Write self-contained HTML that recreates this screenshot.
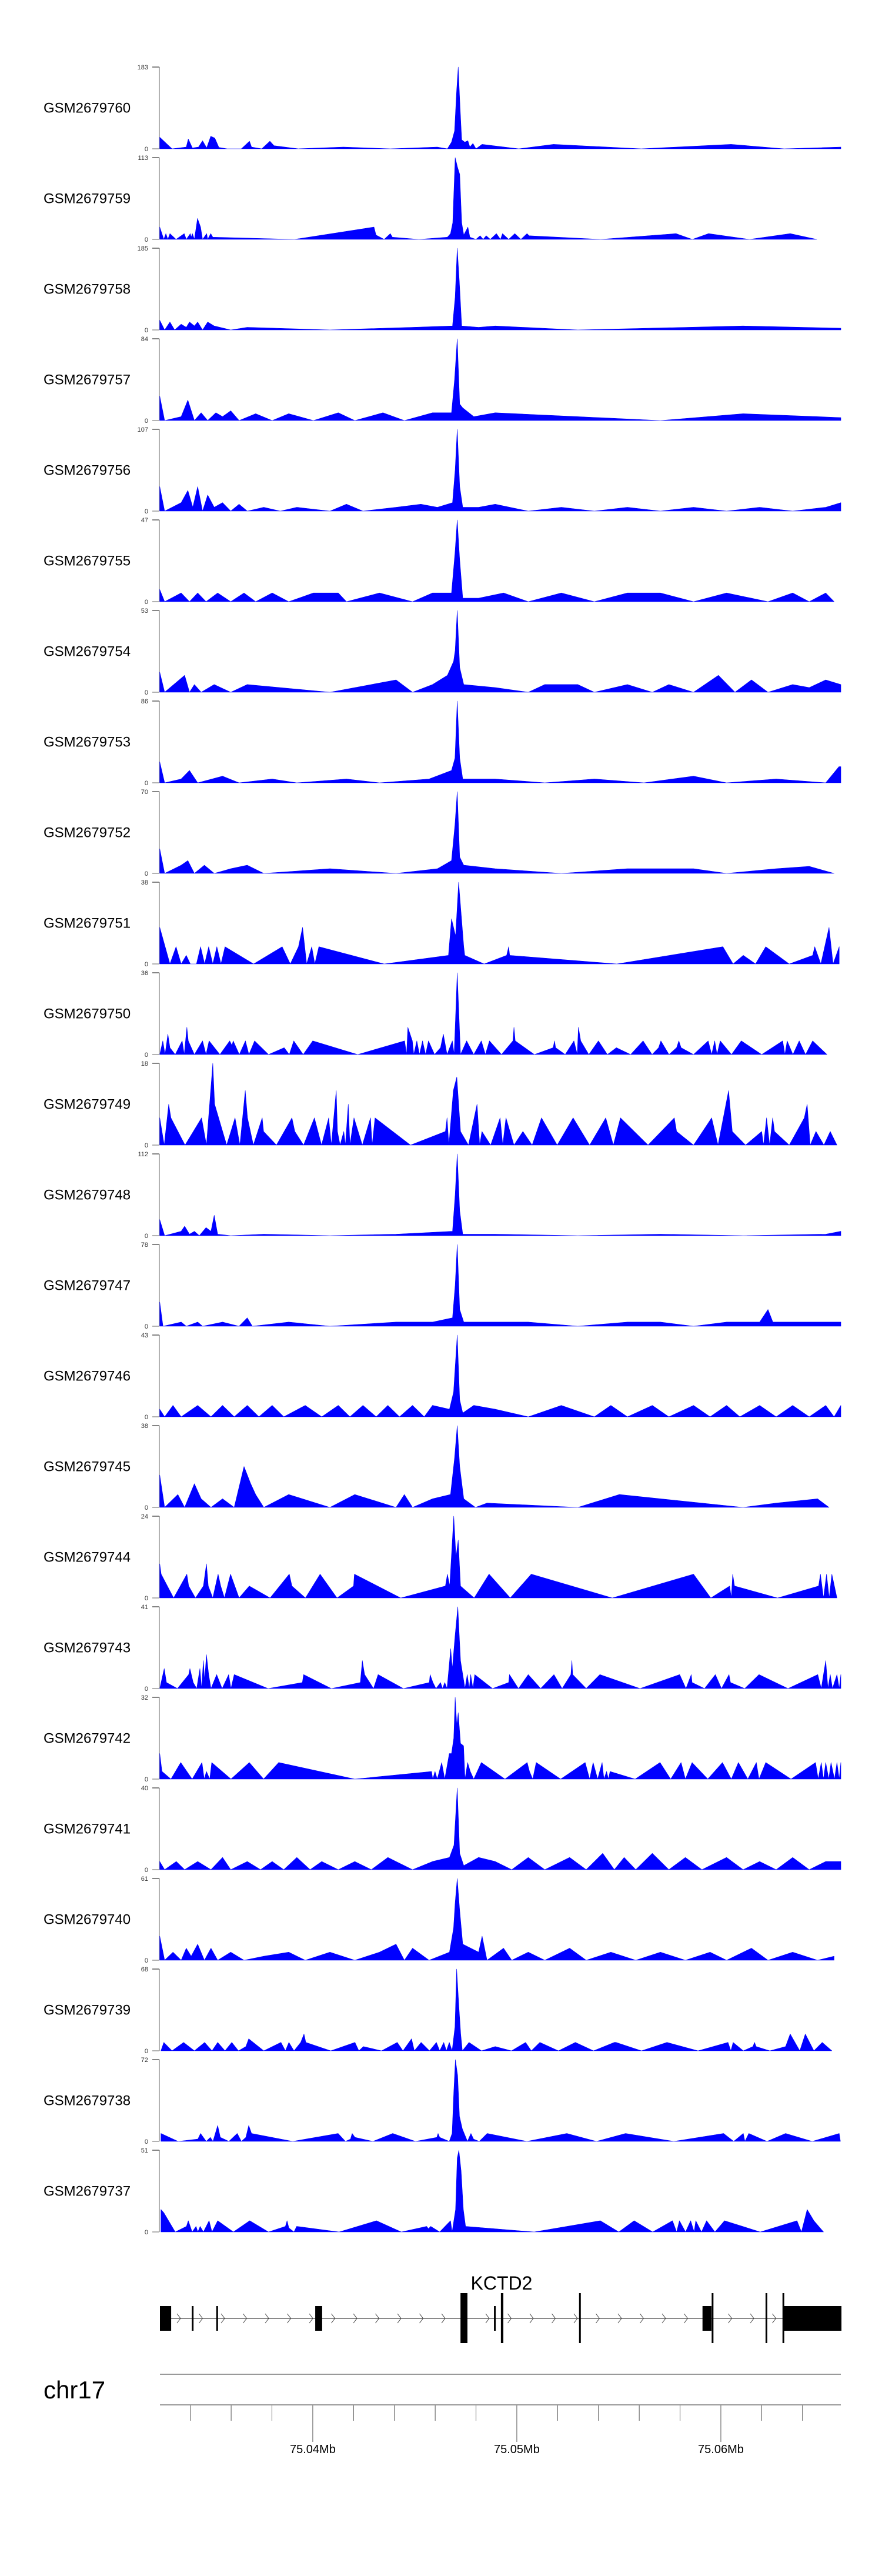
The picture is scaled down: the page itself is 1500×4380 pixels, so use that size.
<!DOCTYPE html>
<html><head><meta charset="utf-8"><title>KCTD2 coverage tracks</title>
<style>
html,body{margin:0;padding:0;background:#fff;}
svg{display:block;font-family:"Liberation Sans",Arial,sans-serif;}
</style></head>
<body>
<svg id="chart" width="1500" height="4380" viewBox="0 0 1500 4380" xmlns="http://www.w3.org/2000/svg">
<rect width="1500" height="4380" fill="#fff"/>
<g id="tracks"></g>
<g id="gene"></g>
<g id="axis"></g>
</svg>
<script>
// ---- data (positions in kb relative to chr17:75.000 Mb) ----
const sampleNames = ["GSM2679760","GSM2679759","GSM2679758","GSM2679757","GSM2679756","GSM2679755","GSM2679754","GSM2679753","GSM2679752","GSM2679751","GSM2679750","GSM2679749","GSM2679748","GSM2679747","GSM2679746","GSM2679745","GSM2679744","GSM2679743","GSM2679742","GSM2679741","GSM2679740","GSM2679739","GSM2679738","GSM2679737"];
const maxValues = [183,113,185,84,107,47,53,86,70,38,36,18,112,78,43,38,24,41,32,40,61,68,72,51];

const track01 = [[32.5,26],[33.1,0],[33.8,4],[33.9,22],[34.1,2],[34.4,4],[34.6,18],[34.8,2],[35.0,28],[35.2,24],[35.4,3],[35.8,0],[36.5,0],[36.9,17],[37.0,4],[37.5,0],[37.9,17],[38.1,7],[39.3,0],[41.5,4],[43.8,0],[46.1,4],[46.6,0],[46.8,15],[46.95,40],[47.05,130],[47.13,183],[47.22,90],[47.3,20],[47.45,15],[47.6,18],[47.7,4],[47.85,12],[48.0,0],[48.3,10],[50.1,0],[51.8,10],[56.1,0],[60.5,10],[63.1,0],[65.88,4]];
const track02 = [[32.5,17],[32.7,0],[32.8,8],[32.9,0],[33.0,8],[33.3,0],[33.7,8],[33.8,0],[34.0,8],[34.04,3],[34.1,8],[34.2,0],[34.35,29],[34.5,17],[34.6,0],[34.8,8],[34.85,0],[35.0,8],[35.1,3],[39.1,0],[43.0,17],[43.1,6],[43.5,0],[43.8,8],[43.9,3],[45.2,0],[46.6,3],[46.75,8],[46.86,23],[46.98,113],[47.09,100],[47.2,90],[47.3,23],[47.4,6],[47.6,17],[47.7,3],[48.0,0],[48.2,5],[48.35,0],[48.5,5],[48.7,0],[49.0,8],[49.2,0],[49.3,8],[49.6,0],[49.9,8],[50.2,0],[50.5,8],[50.6,5],[54.1,0],[57.8,8],[58.6,0],[59.4,8],[61.4,0],[63.4,8],[64.7,0]];
const track03 = [[32.5,22],[32.74,0],[33.0,18],[33.23,0],[33.55,13],[33.8,6],[33.96,18],[34.2,9],[34.36,18],[34.6,0],[34.85,18],[35.17,9],[35.98,0],[36.79,6],[40.84,0],[44.89,6],[46.85,9],[46.98,74],[47.08,185],[47.18,111],[47.3,9],[48.13,6],[48.94,9],[52.99,0],[61.09,9],[65.88,4]];
const track04 = [[32.5,25],[32.74,0],[33.55,4],[33.88,21],[34.2,0],[34.53,8],[34.85,0],[35.25,8],[35.58,4],[35.98,10],[36.39,0],[37.2,7],[38.01,0],[38.82,7],[40.03,0],[41.25,8],[42.06,0],[43.44,8],[44.49,0],[45.87,8],[46.8,8],[46.95,42],[47.08,84],[47.2,17],[47.35,13],[47.89,4],[48.94,8],[52.99,4],[57.04,0],[61.09,7],[65.88,3]];
const track05 = [[32.5,32],[32.74,0],[33.55,11],[33.88,27],[34.12,5],[34.36,32],[34.6,0],[34.85,21],[35.17,5],[35.58,11],[35.98,0],[36.39,9],[36.79,0],[37.6,5],[38.41,0],[39.22,5],[40.84,0],[41.65,9],[42.46,0],[44.08,5],[45.3,9],[46.11,5],[46.85,11],[46.98,54],[47.08,107],[47.2,32],[47.35,5],[48.13,5],[48.94,9],[50.56,0],[52.18,5],[53.8,0],[55.42,5],[57.04,0],[58.66,5],[60.28,0],[61.9,5],[63.52,0],[65.14,5],[65.88,11]];
const track06 = [[32.5,7],[32.74,0],[33.55,5],[33.96,0],[34.36,5],[34.77,0],[35.34,5],[35.98,0],[36.63,5],[37.2,0],[38.01,5],[38.82,0],[40.03,5],[41.25,5],[41.65,0],[43.27,5],[44.89,0],[45.87,5],[46.8,5],[46.97,28],[47.08,47],[47.2,24],[47.35,2],[48.13,2],[49.35,5],[50.56,0],[52.18,5],[53.8,0],[55.42,5],[57.04,5],[58.66,0],[60.28,5],[62.31,0],[63.52,5],[64.33,0],[65.14,5],[65.55,0]];
const track07 = [[32.5,13],[32.74,0],[33.72,11],[33.96,0],[34.2,5],[34.53,0],[35.17,5],[35.98,0],[36.79,5],[40.84,0],[44.08,8],[44.89,0],[45.87,5],[46.6,11],[46.9,20],[46.98,27],[47.08,53],[47.2,16],[47.4,5],[48.94,3],[50.56,0],[51.37,5],[52.99,5],[53.8,0],[55.42,5],[56.64,0],[57.45,5],[58.66,0],[59.88,11],[60.69,0],[61.5,8],[62.31,0],[63.52,5],[64.33,3],[65.14,8],[65.88,5]];
const track08 = [[32.5,22],[32.74,0],[33.55,4],[33.96,13],[34.36,0],[35.58,7],[36.39,0],[38.01,4],[39.22,0],[41.65,4],[43.27,0],[45.7,4],[46.8,13],[46.97,26],[47.08,86],[47.2,26],[47.35,4],[48.94,4],[51.37,0],[53.8,4],[56.23,0],[58.66,7],[60.28,0],[62.71,4],[65.14,0],[65.79,17],[65.88,17]];
const track09 = [[32.5,21],[32.74,0],[33.55,7],[33.88,11],[34.2,0],[34.69,7],[35.17,0],[35.98,4],[36.79,7],[37.6,0],[40.84,4],[44.08,0],[46.11,4],[46.8,11],[46.97,42],[47.08,70],[47.2,14],[47.4,7],[48.94,4],[52.18,0],[55.42,4],[58.66,4],[60.28,0],[62.71,4],[64.33,6],[65.55,0]];
const track10 = [[32.5,17],[33.0,0],[33.3,8],[33.55,0],[33.8,4],[34.0,0],[34.3,0],[34.5,8],[34.7,0],[34.9,8],[35.1,0],[35.3,8],[35.5,0],[35.7,8],[37.1,0],[38.5,8],[38.9,0],[39.3,8],[39.5,17],[39.7,0],[39.95,8],[40.1,0],[40.3,8],[43.5,0],[46.65,4],[46.8,21],[47.0,13],[47.15,38],[47.4,8],[47.45,4],[48.4,0],[49.5,4],[49.6,8],[49.65,4],[54.9,0],[60.1,8],[60.6,0],[61.1,4],[61.7,0],[62.2,8],[63.35,0],[64.5,4],[64.6,8],[64.9,0],[65.3,17],[65.5,0],[65.8,8]];
const track11 = [[32.5,0],[32.65,6],[32.76,0],[32.9,9],[33.0,3],[33.26,0],[33.6,6],[33.7,0],[33.83,12],[33.9,6],[34.2,0],[34.6,6],[34.77,0],[34.92,6],[35.45,0],[35.93,6],[36.04,4],[36.1,6],[36.4,0],[36.7,6],[36.87,0],[37.15,6],[37.83,0],[38.6,3],[38.85,0],[39.07,6],[39.53,0],[40.0,6],[42.2,0],[44.5,6],[44.6,0],[44.66,12],[44.88,6],[44.95,0],[45.1,6],[45.23,0],[45.38,6],[45.53,0],[45.67,6],[45.97,0],[46.26,3],[46.4,9],[46.58,0],[46.84,6],[46.93,0],[47.08,36],[47.24,0],[47.54,6],[47.89,0],[48.26,6],[48.46,0],[48.66,6],[49.25,0],[49.81,6],[49.86,12],[49.92,6],[50.86,0],[51.78,3],[51.85,6],[51.9,3],[52.37,0],[52.8,6],[52.96,0],[53.02,12],[53.13,6],[53.53,0],[54.0,6],[54.44,0],[54.88,3],[55.58,0],[56.19,6],[56.63,0],[56.95,3],[57.06,6],[57.46,0],[57.83,3],[57.94,6],[58.05,3],[58.66,0],[59.38,6],[59.55,0],[59.7,6],[59.81,0],[59.97,6],[60.52,0],[61.0,6],[62.0,0],[63.03,6],[63.14,0],[63.25,6],[63.53,0],[63.84,6],[64.15,0],[64.5,6],[65.2,0]];
const track12 = [[32.5,6],[32.72,0],[32.94,9],[33.05,6],[33.74,0],[34.55,6],[34.79,0],[35.1,18],[35.19,9],[35.78,0],[36.19,6],[36.43,0],[36.69,12],[36.8,6],[37.09,0],[37.52,6],[37.59,3],[38.22,0],[38.98,6],[39.12,3],[39.55,0],[40.08,6],[40.43,0],[40.78,6],[40.91,0],[41.15,12],[41.21,3],[41.34,0],[41.52,3],[41.6,0],[41.74,9],[41.82,0],[42.02,6],[42.43,0],[42.83,6],[42.91,0],[43.05,6],[44.79,0],[46.5,3],[46.58,6],[46.67,0],[46.89,12],[47.06,15],[47.24,3],[47.63,0],[48.05,9],[48.18,0],[48.29,3],[48.72,0],[49.18,6],[49.31,0],[49.47,6],[49.86,0],[50.3,3],[50.75,0],[51.21,6],[51.98,0],[52.76,6],[53.57,0],[54.36,6],[54.73,0],[55.08,6],[56.43,0],[57.72,6],[57.83,3],[58.66,0],[59.55,6],[59.86,0],[60.12,6],[60.38,12],[60.56,3],[61.21,0],[62.0,3],[62.09,0],[62.24,6],[62.39,0],[62.54,6],[62.63,3],[63.35,0],[64.09,6],[64.23,9],[64.38,0],[64.66,3],[65.05,0],[65.36,3],[65.69,0]];
const track13 = [[32.5,22],[32.74,0],[33.15,3],[33.55,6],[33.72,13],[33.96,2],[34.2,6],[34.44,0],[34.77,11],[35.01,6],[35.17,28],[35.34,2],[35.98,0],[37.6,2],[40.84,0],[44.08,2],[46.85,6],[46.98,56],[47.08,112],[47.2,34],[47.35,2],[48.94,2],[52.99,0],[57.04,2],[61.09,0],[65.14,2],[65.88,6]];
const track14 = [[32.5,23],[32.66,0],[33.55,4],[33.8,0],[34.36,4],[34.6,0],[35.58,4],[36.39,0],[36.79,8],[37.04,0],[38.82,4],[40.84,0],[44.08,4],[45.87,4],[46.85,8],[46.98,39],[47.08,78],[47.2,16],[47.4,4],[48.94,4],[50.56,4],[52.99,0],[55.42,4],[57.04,4],[58.66,0],[60.28,4],[61.9,4],[62.31,16],[62.55,4],[64.33,4],[65.14,4],[65.88,4]];
const track15 = [[32.5,4],[32.74,0],[33.15,6],[33.55,0],[34.36,6],[35.01,0],[35.58,6],[36.15,0],[36.79,6],[37.36,0],[38.01,6],[38.58,0],[39.63,6],[40.44,0],[41.25,6],[41.82,0],[42.46,6],[43.11,0],[43.68,6],[44.25,0],[44.89,6],[45.46,0],[45.87,6],[46.7,4],[46.9,13],[47.08,43],[47.2,9],[47.35,2],[47.89,6],[48.94,4],[50.56,0],[52.18,6],[53.8,0],[54.61,6],[55.42,0],[56.64,6],[57.45,0],[58.66,6],[59.47,0],[60.28,6],[60.93,0],[61.9,6],[62.71,0],[63.52,6],[64.33,0],[65.14,6],[65.55,0],[65.88,6]];
const track16 = [[32.5,15],[32.74,0],[33.39,6],[33.72,0],[34.2,11],[34.53,4],[35.01,0],[35.58,4],[36.15,0],[36.63,19],[36.96,11],[37.2,6],[37.6,0],[38.82,6],[40.84,0],[42.06,6],[44.08,0],[44.49,6],[44.89,0],[45.87,4],[46.75,6],[46.95,23],[47.08,38],[47.2,19],[47.4,4],[47.97,0],[48.54,2],[52.99,0],[55.02,6],[61.09,0],[62.71,2],[64.74,4],[65.3,0]];
const track17 = [[32.5,10],[32.57,7],[33.18,0],[33.83,7],[33.92,3.5],[34.25,0],[34.64,3.5],[34.79,10],[34.88,3.5],[35.1,0],[35.36,7],[35.49,3.5],[35.67,0],[35.97,7],[36.39,0],[36.89,3.5],[37.91,0],[38.85,7],[38.98,3.5],[39.64,0],[40.36,7],[41.19,0],[42.0,3.5],[42.04,7],[44.31,0],[46.5,3.5],[46.6,7],[46.71,3.5],[46.91,24],[47.02,12],[47.13,17],[47.24,3.5],[47.91,0],[48.64,7],[49.68,0],[50.71,7],[54.68,0],[58.66,7],[59.51,0],[60.43,3.5],[60.51,0],[60.58,7],[60.67,3.5],[62.78,0],[64.79,3.5],[64.88,7],[65.03,0],[65.18,7],[65.31,0],[65.44,7],[65.69,0]];
const track18 = [[32.5,0],[32.72,10],[32.83,3],[33.37,0],[33.92,7],[33.98,10],[34.14,3],[34.31,0],[34.47,10],[34.55,0],[34.64,14],[34.7,4],[34.79,17],[34.9,7],[35.01,0],[35.29,7],[35.56,0],[35.88,7],[35.99,0],[36.15,7],[37.81,0],[39.49,3],[39.55,7],[40.91,0],[42.33,3],[42.43,14],[42.54,7],[42.98,0],[43.2,7],[44.44,0],[45.71,3],[45.75,7],[45.89,3],[46.04,0],[46.26,3],[46.36,0],[46.47,3],[46.58,0],[46.76,20],[46.84,10],[46.98,27],[47.11,41],[47.24,14],[47.46,0],[47.57,7],[47.67,0],[47.74,7],[47.85,0],[47.94,7],[48.81,0],[49.6,3],[49.64,7],[50.08,0],[50.56,7],[51.17,0],[51.82,7],[52.22,0],[52.65,7],[52.7,14],[52.74,7],[53.4,0],[54.07,7],[56.04,0],[57.98,7],[58.29,0],[58.55,7],[58.59,3],[59.2,0],[59.73,7],[60.03,0],[60.4,7],[60.47,3],[61.17,0],[61.87,7],[63.29,0],[64.75,7],[64.92,0],[65.14,14],[65.25,0],[65.36,7],[65.47,0],[65.69,7],[65.8,0],[65.88,7]];
const track19 = [[32.5,10],[32.61,3],[33.05,0],[33.53,6.5],[34.09,0],[34.57,6.5],[34.68,0],[34.79,3],[34.95,0],[35.05,6.5],[35.99,0],[36.89,6.5],[37.59,0],[38.33,6.5],[42.06,0],[45.82,3],[45.88,0],[45.99,3],[46.1,0],[46.32,6.5],[46.47,0],[46.69,10],[46.8,10],[46.91,16],[46.98,32],[47.06,21],[47.13,26],[47.24,14],[47.39,13],[47.46,0],[47.59,6.5],[47.72,3],[47.89,0],[48.26,6.5],[49.42,0],[50.51,6.5],[50.62,3],[50.78,0],[50.95,6.5],[52.15,0],[53.35,6.5],[53.57,0],[53.74,6.5],[53.96,0],[54.18,6.5],[54.27,0],[54.4,3],[54.49,0],[54.57,3],[55.8,0],[57.02,6.5],[57.54,0],[58.05,6.5],[58.26,0],[58.59,6.5],[59.36,0],[60.08,6.5],[60.51,0],[60.86,6.5],[61.32,0],[61.74,6.5],[61.87,0],[62.2,6.5],[63.44,0],[64.64,6.5],[64.77,0],[64.92,6.5],[65.03,0],[65.14,6.5],[65.29,0],[65.4,6.5],[65.57,0],[65.69,6.5],[65.8,0],[65.88,6.5]];
const track20 = [[32.5,4],[32.74,0],[33.31,4],[33.72,0],[34.36,4],[35.01,0],[35.58,6],[35.98,0],[36.79,4],[37.44,0],[38.01,4],[38.58,0],[39.22,6],[39.87,0],[40.44,4],[41.25,0],[42.06,4],[42.87,0],[43.68,6],[44.08,4],[44.89,0],[45.87,4],[46.7,6],[46.92,12],[47.08,40],[47.2,8],[47.4,2],[48.13,6],[48.94,4],[49.75,0],[50.56,6],[51.37,0],[52.59,6],[53.4,0],[54.21,8],[54.78,0],[55.26,6],[55.83,0],[56.64,8],[57.45,0],[58.26,6],[59.07,0],[60.28,6],[61.09,0],[61.9,4],[62.71,0],[63.52,6],[64.33,0],[65.14,4],[65.88,4]];
const track21 = [[32.5,18],[32.74,0],[33.15,6],[33.55,0],[33.8,9],[34.04,3],[34.36,12],[34.69,0],[35.01,9],[35.34,0],[35.98,6],[36.63,0],[37.6,3],[38.82,6],[39.63,0],[40.84,6],[42.06,0],[43.27,6],[44.08,12],[44.49,0],[44.89,9],[45.7,0],[46.7,6],[46.9,24],[46.98,43],[47.08,61],[47.2,37],[47.35,12],[48.13,6],[48.3,18],[48.54,0],[49.35,9],[49.75,0],[50.56,6],[51.37,0],[52.59,9],[53.4,0],[54.61,6],[55.83,0],[57.04,6],[58.26,0],[59.47,6],[60.28,0],[61.5,9],[62.31,0],[63.52,6],[64.74,0],[65.55,3]];
const track22 = [[32.56,0],[32.7,7],[33.1,0],[33.67,7],[34.2,0],[34.7,7],[35.06,0],[35.34,7],[35.7,0],[36.03,7],[36.36,0],[36.72,3.5],[36.86,10],[37.6,0],[38.44,7],[38.66,0],[38.83,7],[39.08,0],[39.41,7],[39.57,14],[39.66,7],[40.88,0],[42.07,7],[42.26,0],[42.48,3.5],[43.37,0],[44.14,7],[44.42,0],[44.84,10],[44.98,0],[45.31,7],[45.72,0],[46.06,7],[46.22,0],[46.42,7],[46.55,0],[46.69,7],[46.83,0],[46.97,20],[47.05,68],[47.16,37],[47.25,14],[47.33,0],[47.66,7],[48.27,0],[48.94,3.5],[49.74,0],[50.43,7],[50.71,0],[51.13,7],[52.04,0],[52.87,7],[53.76,0],[54.78,7],[54.86,7],[56.11,0],[57.36,7],[58.88,0],[60.35,7],[60.49,0],[60.6,7],[61.1,0],[61.57,3.5],[61.65,7],[61.73,3.5],[62.4,0],[63.17,3.5],[63.4,14],[63.87,0],[64.14,14],[64.56,0],[64.97,7],[65.44,0]];
const track23 = [[32.56,7],[33.4,0],[34.37,2],[34.5,7],[34.78,0],[34.98,3.5],[35.11,0],[35.34,14],[35.47,3.5],[35.89,0],[36.3,7],[36.5,0],[36.72,3.5],[36.86,14],[37.0,7],[39.02,0],[41.24,7],[41.6,0],[41.85,2],[41.93,7],[42.07,3.5],[42.95,0],[43.92,7],[45.03,0],[46.08,3.5],[46.14,7],[46.22,3.5],[46.69,0],[46.83,7],[46.91,43],[46.99,72],[47.1,58],[47.19,22],[47.33,11],[47.58,0],[47.75,7],[47.88,2],[48.16,0],[48.55,7],[50.49,0],[52.45,7],[53.9,0],[55.33,7],[57.69,0],[60.13,7],[60.63,0],[61.1,7],[61.18,0],[61.37,7],[62.26,0],[63.17,7],[64.48,0],[65.8,7],[65.86,0]];
const track24 = [[32.56,14],[32.7,12],[33.26,0],[33.81,3.5],[33.9,7],[34.09,0],[34.28,3.5],[34.37,0],[34.48,3.5],[34.64,0],[34.92,7],[35.06,0],[35.34,7],[36.11,0],[36.91,7],[37.83,0],[38.66,3.5],[38.74,7],[38.83,2.5],[39.08,0],[39.21,3.5],[41.29,0],[43.12,7],[44.34,0],[45.58,3.5],[45.67,2],[45.78,3.5],[46.22,0],[46.75,7],[46.83,0],[47.0,14],[47.08,46],[47.16,51],[47.27,38],[47.38,14],[47.49,3.5],[50.85,0],[54.09,7],[55.0,0],[55.75,7],[56.66,0],[57.63,7],[57.83,0],[57.97,7],[58.27,0],[58.52,7],[58.69,0],[58.77,7],[59.05,0],[59.3,7],[59.71,0],[60.18,7],[61.93,0],[63.73,7],[63.95,0],[64.23,14],[64.56,7],[65.03,0]];
const trackData = [track01,track02,track03,track04,track05,track06,track07,track08,track09,track10,track11,track12,track13,track14,track15,track16,track17,track18,track19,track20,track21,track22,track23,track24];

// gene model: [startKb, endKb, tall]
const geneName = "KCTD2";
const exonStarts = [32.51,34.07,35.27,40.12,47.24,48.88,49.22,53.05,59.10,59.55,62.19,63.02,63.06];
const exonEnds   = [33.06,34.13,35.33,40.46,47.58,48.94,49.34,53.13,59.54,59.62,62.27,63.08,65.91];
const exonTall   = [0,0,0,0,1,0,1,1,0,1,1,1,0];
const geneStart = 32.51, geneEnd = 65.91;

// axis ticks (kb)
const minorTicks = [34,36,38,40,42,44,46,48,50,52,54,56,58,60,62,64];
const majorTicks = [40,50,60];
const majorLabels = ["75.04Mb","75.05Mb","75.06Mb"];
const chromName = "chr17";

// ---- layout ----
const NS = "http://www.w3.org/2000/svg";
const X0 = 272, X1 = 1430, KB0 = 32.51, KB1 = 65.88;
function xs(kb){ return X0 + (kb - KB0) / (KB1 - KB0) * (X1 - X0); }
const TOP0 = 114, STEP = 154, TH = 139;
function mk(tag, attrs, parent){ const e = document.createElementNS(NS, tag); for (const k in attrs) e.setAttribute(k, attrs[k]); parent.appendChild(e); return e; }

const gT = document.getElementById('tracks');
trackData.forEach((pts, i) => {
  const top = TOP0 + STEP * i, base = top + TH, mx = maxValues[i];
  const ys = v => base - v / mx * TH;
  const g = mk('g', {}, gT);
  
  
  const lab = mk('text', {x: 74, y: (top + base) / 2 + 8, 'font-size': 24, fill: '#000'}, g);
  lab.textContent = sampleNames[i];
  
  
  const ax = mk('line', {x1: 271, y1: top, x2: 271, y2: base, stroke: '#999', 'stroke-width': 1.5}, g);
  
  
  mk('line', {x1: 259, y1: top, x2: 271, y2: top, stroke: '#333', 'stroke-width': 1.2}, g);
  mk('line', {x1: 259, y1: base, x2: 271, y2: base, stroke: '#999', 'stroke-width': 1.5}, g);
  const tmax = mk('text', {x: 252, y: top + 4, 'font-size': 11, 'text-anchor': 'end', fill: '#333'}, g);
  tmax.textContent = String(mx);
  
  
  const t0 = mk('text', {x: 252, y: base + 4, 'font-size': 11, 'text-anchor': 'end', fill: '#333'}, g);
  t0.textContent = "0";
  
  
  let d = 'M' + xs(pts[0][0]).toFixed(1) + ',' + base;
  pts.forEach(p => { d += 'L' + xs(p[0]).toFixed(1) + ',' + ys(p[1]).toFixed(1); });
  d += 'L' + xs(pts[pts.length - 1][0]).toFixed(1) + ',' + base + 'Z';
  const area = mk('path', {d: d, fill: '#0000ff', stroke: '#0000ff', 'stroke-width': 0.6, 'stroke-linejoin': 'round'}, g);
  
  
});

// gene track
const gG = document.getElementById('gene');
const GY = 3942;
const intron = mk('line', {x1: xs(geneStart), y1: GY, x2: xs(geneEnd), y2: GY, stroke: '#444', 'stroke-width': 1.3}, gG);


for (let x = xs(geneStart) + 32; x < xs(geneEnd) - 60; x += 37.5) {
  const c = mk('path', {d: 'M' + (x - 3) + ',' + (GY - 8) + 'L' + (x + 3) + ',' + GY + 'L' + (x - 3) + ',' + (GY + 8), fill: 'none', stroke: '#444', 'stroke-width': 1}, gG);
  
  
}
exonStarts.forEach((s, i) => {
  const x1 = xs(s), x2 = Math.max(xs(exonEnds[i]), x1 + 3);
  const tall = exonTall[i];
  const y1 = tall ? 3899 : 3921, y2 = tall ? 3984 : 3963;
  const r = mk('rect', {x: x1, y: y1, width: x2 - x1, height: y2 - y1, fill: '#000'}, gG);
  
  
});
const gl = mk('text', {x: 853, y: 3893, 'font-size': 32, 'text-anchor': 'middle', fill: '#000'}, gG);
gl.textContent = geneName;



// genome axis
const gA = document.getElementById('axis');
const l1 = mk('line', {x1: X0, y1: 4037, x2: X1, y2: 4037, stroke: '#999', 'stroke-width': 2}, gA);


const l2 = mk('line', {x1: X0, y1: 4089, x2: X1, y2: 4089, stroke: '#999', 'stroke-width': 2}, gA);


const chr = mk('text', {x: 74, y: 4078, 'font-size': 42, fill: '#000'}, gA);
chr.textContent = chromName;


minorTicks.forEach(k => {
  const isMajor = majorTicks.indexOf(k) >= 0;
  const t = mk('line', {x1: xs(k), y1: 4090, x2: xs(k), y2: isMajor ? 4152 : 4116, stroke: '#555', 'stroke-width': 1}, gA);
  
  
});
majorTicks.forEach((k, i) => {
  const t = mk('text', {x: xs(k), y: 4171, 'font-size': 20, 'text-anchor': 'middle', fill: '#000'}, gA);
  t.textContent = majorLabels[i];
  
  
});
</script>
</body></html>
